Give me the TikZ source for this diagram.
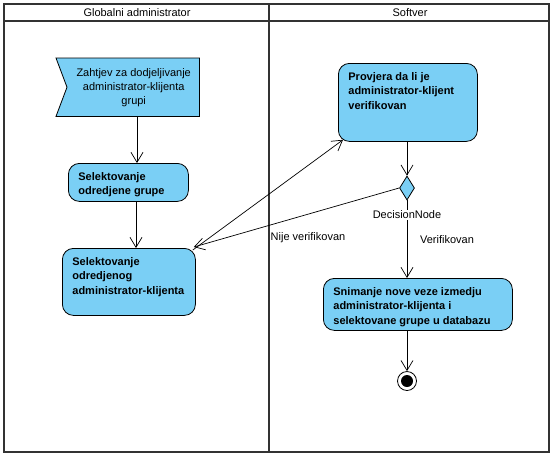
\documentclass[tikz,border=0pt]{standalone}
\usepackage{fontspec}
\setmainfont{Liberation Sans}
\usetikzlibrary{arrows.meta,shapes.geometric,calc,backgrounds}
\definecolor{actfill}{RGB}{122,207,245}
\newcommand{\acttext}[3]{\parbox[c][#2][t]{#1}{\raggedright\leftskip=10pt\rule{0pt}{17pt}#3}}
\tikzset{
  lane/.style={draw=black!80, line width=1.8pt},
  act/.style={draw=black, fill=actfill, rounded corners=11pt, inner sep=0pt, anchor=north west, line width=0.8pt, font=\fontsize{11}{14.5}\selectfont\bfseries},
  arr/.style={draw=black, line width=0.7pt, -{Straight Barb[length=10pt,width=12pt]}},
  plain/.style={font=\fontsize{11}{14}\selectfont, inner sep=1pt},
}
\begin{document}
\begin{tikzpicture}[x=1pt,y=-1pt]
\useasboundingbox (0,0) rectangle (556,459);
% swimlanes
\draw[lane] (4,4) rectangle (549,452);
\draw[lane] (4,21) -- (549,21);
\draw[lane] (269,4) -- (269,452);
\node[plain] (h1) at (137,13) {Globalni administrator};
\node[plain] (h2) at (410,13) {Softver};
% accept event
\node[minimum width=143pt, minimum height=58pt, inner sep=0pt, anchor=north west, align=center, font=\fontsize{11}{14}\selectfont] (acc) at (56,58) {\hspace*{12pt}Zahtjev za dodjeljivanje\\\hspace*{12pt}administrator-klijenta\\\hspace*{12pt}grupi};
\begin{scope}[on background layer]
\draw[draw=black, fill=actfill, line width=0.8pt] (acc.north west) -- (acc.north east) -- (acc.south east) -- (acc.south west) -- ($(acc.west)+(11,0)$) -- cycle;
\end{scope}
% actions
\node[act] (n1) at (68,163) {\acttext{120pt}{38pt}{Selektovanje\\odredjene grupe}};
\node[act] (n2) at (62,248) {\acttext{133pt}{67pt}{Selektovanje\\odredjenog\\administrator-klijenta}};
\node[act] (pv) at (338,63) {\acttext{139pt}{78pt}{Provjera da li je\\administrator-klijent\\verifikovan}};
\node[act] (sn) at (323,278) {\acttext{189pt}{52pt}{Snimanje nove veze izmedju\\administrator-klijenta i\\selektovane grupe u databazu}};
\node[diamond, draw=black, fill=actfill, line width=0.8pt, minimum width=15pt, minimum height=24pt, inner sep=0pt, aspect=0.625] (dec) at (407,188) {};
\node[circle, draw=black, line width=0.8pt, minimum size=19pt, inner sep=0pt, path picture={\fill[black] (path picture bounding box.center) circle (6pt);}] (fin) at (407,381) {};
% connectors
\coordinate (xa) at (137,0);
\coordinate (xb) at (136,0);
\coordinate (xc) at (407,0);
\draw[arr] (acc.south -| xa) -- (n1.north -| xa);
\draw[arr] (n1.south -| xb) -- (n2.north -| xb);
\draw[arr] ($(n2.north east)+(-3,2)$) -- ($(pv.south west)+(5,-2)$);
\draw[arr] (dec.west) -- ($(n2.north east)+(-2,-1)$);
\node[plain] (lnv) at (308,238) {Nije verifikovan};
\draw[arr] (pv.south -| xc) -- (dec.north);
\draw[arr] (dec.south) -- (sn.north -| xc);
\node[plain, fill=white] (dlab) at (407,215) {DecisionNode};
\node[plain] (lv) at (447,240) {Verifikovan};
\draw[arr] (sn.south -| xc) -- (fin.north);
\end{tikzpicture}
\end{document}
